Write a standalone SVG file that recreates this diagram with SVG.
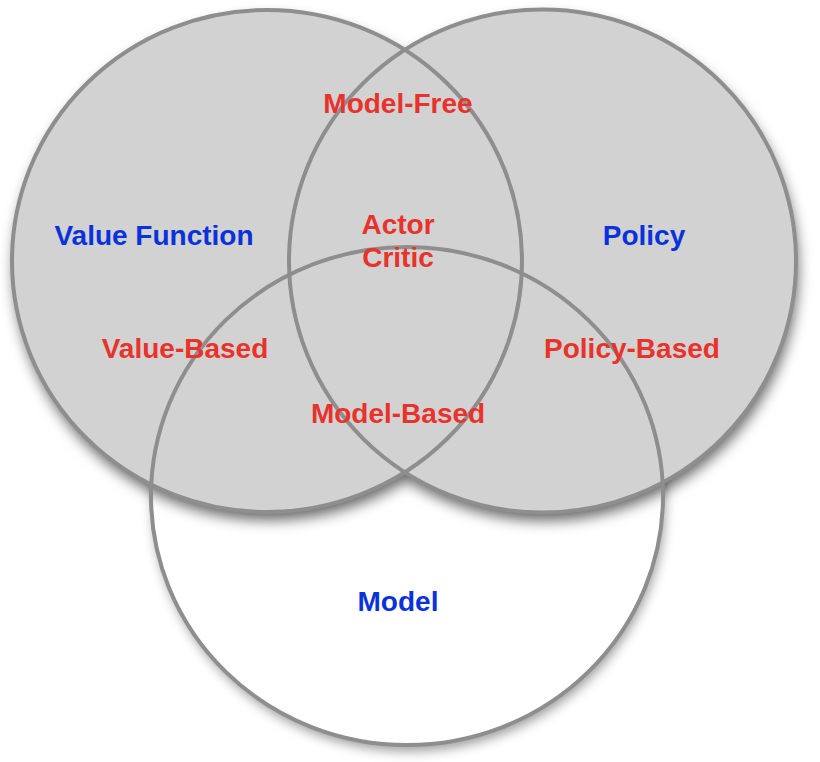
<svg xmlns="http://www.w3.org/2000/svg" width="820" height="762" viewBox="0 0 820 762">
  <defs>
    <filter id="shadow" x="-10%" y="-10%" width="120%" height="125%">
      <feDropShadow dx="2" dy="8" stdDeviation="7" flood-color="#000" flood-opacity="0.6"/>
    </filter>
    <filter id="shadowSoft" x="-10%" y="-10%" width="120%" height="125%">
      <feDropShadow dx="2" dy="6" stdDeviation="6" flood-color="#000" flood-opacity="0.4"/>
    </filter>
  </defs>
  <style>
    .fillGray { fill: #d2d2d2; }
    .fillWhite { fill: #ffffff; }
    .ring { fill: none; stroke: #8e8e8e; stroke-width: 4; }
    text { font-family: "Liberation Sans", Arial, Helvetica, sans-serif; font-weight: bold; font-size: 28px; text-anchor: middle; }
    .set { fill: #0a32dc; }
    .region { fill: #e8322c; }
  </style>
  <rect width="820" height="762" fill="#ffffff"/>

  <!-- fills with shadows -->
  <g id="fills">
    <ellipse class="fillWhite" cx="407" cy="496" rx="256" ry="249" filter="url(#shadowSoft)"/>
    <g filter="url(#shadow)">
      <ellipse class="fillGray" cx="267" cy="261" rx="255" ry="251"/>
      <ellipse class="fillGray" cx="542.5" cy="261" rx="253.5" ry="251.5"/>
    </g>
  </g>

  <!-- circle outlines -->
  <g id="value-function">
    <ellipse class="ring" cx="267" cy="261" rx="255" ry="251"/>
  </g>
  <g id="policy">
    <ellipse class="ring" cx="542.5" cy="261" rx="253.5" ry="251.5"/>
  </g>
  <g id="model">
    <ellipse class="ring" cx="407" cy="496" rx="256" ry="249"/>
  </g>

  <!-- labels -->
  <g id="labels">
    <text class="set" x="154" y="245">Value Function</text>
    <text class="set" x="644" y="245">Policy</text>
    <text class="set" x="398" y="611">Model</text>
    <text class="region" x="398" y="113">Model-Free</text>
    <text class="region" x="398" y="234">Actor</text>
    <text class="region" x="398" y="267">Critic</text>
    <text class="region" x="185" y="358">Value-Based</text>
    <text class="region" x="632" y="358">Policy-Based</text>
    <text class="region" x="398" y="423">Model-Based</text>
  </g>
</svg>
